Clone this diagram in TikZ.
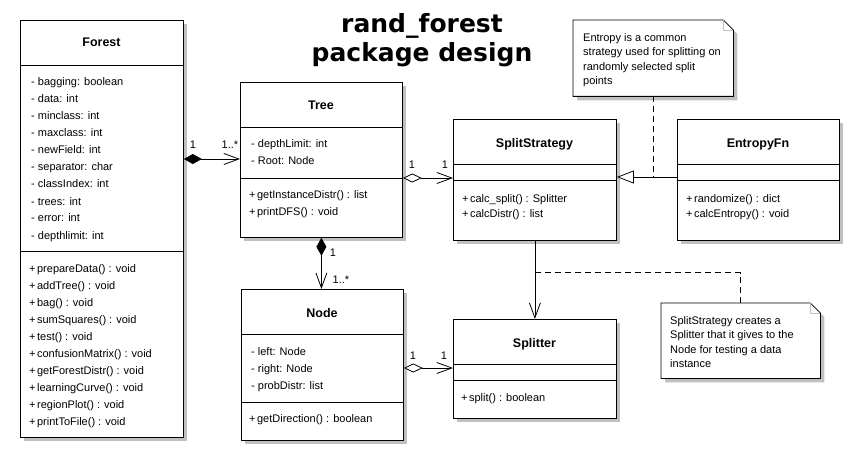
\documentclass[tikz,border=0pt]{standalone}
\usepackage{fontspec}
\setmainfont{Liberation Sans}
\newfontfamily\titlefont{DejaVu Sans}
\usetikzlibrary{arrows.meta,shadows}
\definecolor{shadowgray}{HTML}{C0C0C0}
\begin{document}
\begin{tikzpicture}[x=1pt,y=-1pt,
  cls/.style={draw, fill=white, line width=0.8pt, anchor=north west, inner sep=0pt,
    drop shadow={shadow xshift=4pt,shadow yshift=-4pt,fill=shadowgray,opacity=1}},
  cname/.style={font=\fontsize{12.5}{14}\selectfont\bfseries, anchor=base, inner sep=0pt},
  mem/.style={font=\fontsize{11}{13}\selectfont, anchor=base west, inner sep=0pt},
  mult/.style={font=\fontsize{11}{13}\selectfont, anchor=base, inner sep=0pt},
  sep/.style={line width=0.8pt},
  conn/.style={line width=0.8pt},
  notebox/.style={anchor=north west, inner sep=0pt},
  notetext/.style={font=\fontsize{11}{14.5}\selectfont, align=left, anchor=north west, inner sep=0pt},
  notedash/.style={line width=0.8pt, dash pattern=on 6pt off 4pt},
  comp/.style={{Diamond[length=18pt,width=10pt]}-{Straight Barb[length=15pt,width=11pt]}},
  aggr/.style={{Diamond[length=19pt,width=9pt,fill=white]}-{Straight Barb[length=15pt,width=11pt]}},
  assoc/.style={-{Straight Barb[length=15pt,width=11pt]}},
  gen/.style={-{Triangle[length=17pt,width=13pt,fill=white]}},
  ttl/.style={font=\titlefont\fontsize{25}{29}\selectfont\bfseries, anchor=base, inner sep=0pt}
]
\useasboundingbox (0,0) rectangle (864,465);

% title
\node[ttl] (title1) at (422,33) {rand\_forest};
\node[ttl] (title2) at (422,62) {package design};

% ---------- Forest ----------
\node[cls, minimum width=163pt, minimum height=417pt] (forest) at (20,20) {};
\draw[sep] ([yshift=-45pt]forest.north west) -- ([yshift=-45pt]forest.north east);
\draw[sep] ([yshift=-231pt]forest.north west) -- ([yshift=-231pt]forest.north east);
\node[cname] (forestT) at (101.5,47) {Forest};
\node[mem] (fa1) at (31,86) {- bagging: boolean};
\node[mem] (fa2) at (31,103) {- data: int};
\node[mem] (fa3) at (31,120) {- minclass: int};
\node[mem] (fa4) at (31,137) {- maxclass: int};
\node[mem] (fa5) at (31,154) {- newField: int};
\node[mem] (fa6) at (31,171) {- separator: char};
\node[mem] (fa7) at (31,188) {- classIndex: int};
\node[mem] (fa8) at (31,205) {- trees: int};
\node[mem] (fa9) at (31,222) {- error: int};
\node[mem] (fa10) at (31,239) {- depthlimit: int};
\node[mem] (fm1) at (29,272) {+\hspace{1.5pt}prepareData() : void};
\node[mem] (fm2) at (29,289) {+\hspace{1.5pt}addTree() : void};
\node[mem] (fm3) at (29,306) {+\hspace{1.5pt}bag() : void};
\node[mem] (fm4) at (29,323) {+\hspace{1.5pt}sumSquares() : void};
\node[mem] (fm5) at (29,340) {+\hspace{1.5pt}test() : void};
\node[mem] (fm6) at (29,357) {+\hspace{1.5pt}confusionMatrix() : void};
\node[mem] (fm7) at (29,374) {+\hspace{1.5pt}getForestDistr() : void};
\node[mem] (fm8) at (29,391) {+\hspace{1.5pt}learningCurve() : void};
\node[mem] (fm9) at (29,408) {+\hspace{1.5pt}regionPlot() : void};
\node[mem] (fm10) at (29,425) {+\hspace{1.5pt}printToFile() : void};

% ---------- Tree ----------
\node[cls, minimum width=162pt, minimum height=155pt] (tree) at (240,82) {};
\draw[sep] ([yshift=-45pt]tree.north west) -- ([yshift=-45pt]tree.north east);
\draw[sep] ([yshift=-96pt]tree.north west) -- ([yshift=-96pt]tree.north east);
\node[cname] (treeT) at (321,110) {Tree};
\node[mem] (ta1) at (251,148) {- depthLimit: int};
\node[mem] (ta2) at (251,165) {- Root: Node};
\node[mem] (tm1) at (249,198) {+\hspace{1.5pt}getInstanceDistr() : list};
\node[mem] (tm2) at (249,215) {+\hspace{1.5pt}printDFS() : void};

% ---------- SplitStrategy ----------
\node[cls, minimum width=163pt, minimum height=121pt] (ss) at (453,119) {};
\draw[sep] ([yshift=-45pt]ss.north west) -- ([yshift=-45pt]ss.north east);
\draw[sep] ([yshift=-61pt]ss.north west) -- ([yshift=-61pt]ss.north east);
\node[cname] (ssT) at (534.5,148) {SplitStrategy};
\node[mem] (sm1) at (462,202) {+\hspace{1.5pt}calc\_split() : Splitter};
\node[mem] (sm2) at (462,218) {+\hspace{1.5pt}calcDistr() : list};

% ---------- EntropyFn ----------
\node[cls, minimum width=162pt, minimum height=121pt] (ef) at (677,119) {};
\draw[sep] ([yshift=-45pt]ef.north west) -- ([yshift=-45pt]ef.north east);
\draw[sep] ([yshift=-61pt]ef.north west) -- ([yshift=-61pt]ef.north east);
\node[cname] (efT) at (758,148) {EntropyFn};
\node[mem] (em1) at (686,202) {+\hspace{1.5pt}randomize() : dict};
\node[mem] (em2) at (686,218) {+\hspace{1.5pt}calcEntropy() : void};

% ---------- Node ----------
\node[cls, minimum width=162pt, minimum height=151pt] (node) at (241,289) {};
\draw[sep] ([yshift=-45pt]node.north west) -- ([yshift=-45pt]node.north east);
\draw[sep] ([yshift=-113pt]node.north west) -- ([yshift=-113pt]node.north east);
\node[cname] (nodeT) at (322,317) {Node};
\node[mem] (na1) at (251,355) {- left: Node};
\node[mem] (na2) at (251,372) {- right: Node};
\node[mem] (na3) at (251,389) {- probDistr: list};
\node[mem] (nm1) at (249,422) {+\hspace{1.5pt}getDirection() : boolean};

% ---------- Splitter ----------
\node[cls, minimum width=163pt, minimum height=99pt] (spl) at (453,319) {};
\draw[sep] ([yshift=-45pt]spl.north west) -- ([yshift=-45pt]spl.north east);
\draw[sep] ([yshift=-61pt]spl.north west) -- ([yshift=-61pt]spl.north east);
\node[cname] (splT) at (534.5,347) {Splitter};
\node[mem] (pm1) at (461,401) {+\hspace{1.5pt}split() : boolean};

% ---------- Notes ----------
\node[notebox, minimum width=160pt, minimum height=76pt] (note1) at (573,20) {};
\fill[shadowgray] ([xshift=4pt,yshift=-4pt]note1.north west) -- ([xshift=-6pt,yshift=-4pt]note1.north east)
  -- ([xshift=4pt,yshift=-14pt]note1.north east) -- ([xshift=4pt,yshift=-4pt]note1.south east)
  -- ([xshift=4pt,yshift=-4pt]note1.south west) -- cycle;
\filldraw[fill=white, line width=0.8pt] (note1.north west) -- ([xshift=-10pt]note1.north east)
  -- ([yshift=-10pt]note1.north east) -- (note1.south east) -- (note1.south west) -- cycle;
\draw[shadowgray, line width=0.8pt] ([xshift=-10pt]note1.north east) -- ([xshift=-10pt,yshift=-10pt]note1.north east) -- ([yshift=-10pt]note1.north east);
\node[notetext] (note1t) at (583,33) {Entropy is a common\\strategy used for splitting on\\randomly selected split\\points};

\node[notebox, minimum width=159pt, minimum height=75pt] (note2) at (661,303) {};
\fill[shadowgray] ([xshift=4pt,yshift=-4pt]note2.north west) -- ([xshift=-6pt,yshift=-4pt]note2.north east)
  -- ([xshift=4pt,yshift=-14pt]note2.north east) -- ([xshift=4pt,yshift=-4pt]note2.south east)
  -- ([xshift=4pt,yshift=-4pt]note2.south west) -- cycle;
\filldraw[fill=white, line width=0.8pt] (note2.north west) -- ([xshift=-10pt]note2.north east)
  -- ([yshift=-10pt]note2.north east) -- (note2.south east) -- (note2.south west) -- cycle;
\draw[shadowgray, line width=0.8pt] ([xshift=-10pt]note2.north east) -- ([xshift=-10pt,yshift=-10pt]note2.north east) -- ([yshift=-10pt]note2.north east);
\node[notetext] (note2t) at (670,316) {SplitStrategy creates a\\Splitter that it gives to the\\Node for testing a data\\instance};

% ---------- Connectors ----------
\draw[conn, comp] ([yshift=-139pt]forest.north east) -- ([yshift=-77pt]tree.north west);
\node[mult] (m1) at (193,149) {1};
\node[mult] (m2) at (230,149) {1..*};

\draw[conn, aggr] ([yshift=-96pt]tree.north east) -- ([yshift=-59pt]ss.north west);
\node[mult] (m3) at (412,168) {1};
\node[mult] (m4) at (445,168) {1};

\draw[conn, comp] (tree.south) -- (tree.south |- node.north);
\node[mult] (m5) at (333,256) {1};
\node[mult] (m6) at (341,283) {1..*};

\draw[conn, aggr] ([yshift=-79pt]node.north east) -- ([yshift=-49pt]spl.north west);
\node[mult] (m7) at (413,359) {1};
\node[mult] (m8) at (444,359) {1};

\draw[conn, assoc] (ss.south) -- (ss.south |- spl.north);

\coordinate (genpt) at ([yshift=-58pt]ef.north west);
\draw[conn, gen] (genpt) -- ([yshift=-58pt]ss.north east);

\draw[notedash] (note1.south) -- (note1.south |- genpt);
\draw[notedash] (note2.north) |- ([yshift=-32pt]ss.south);
\end{tikzpicture}
\end{document}
